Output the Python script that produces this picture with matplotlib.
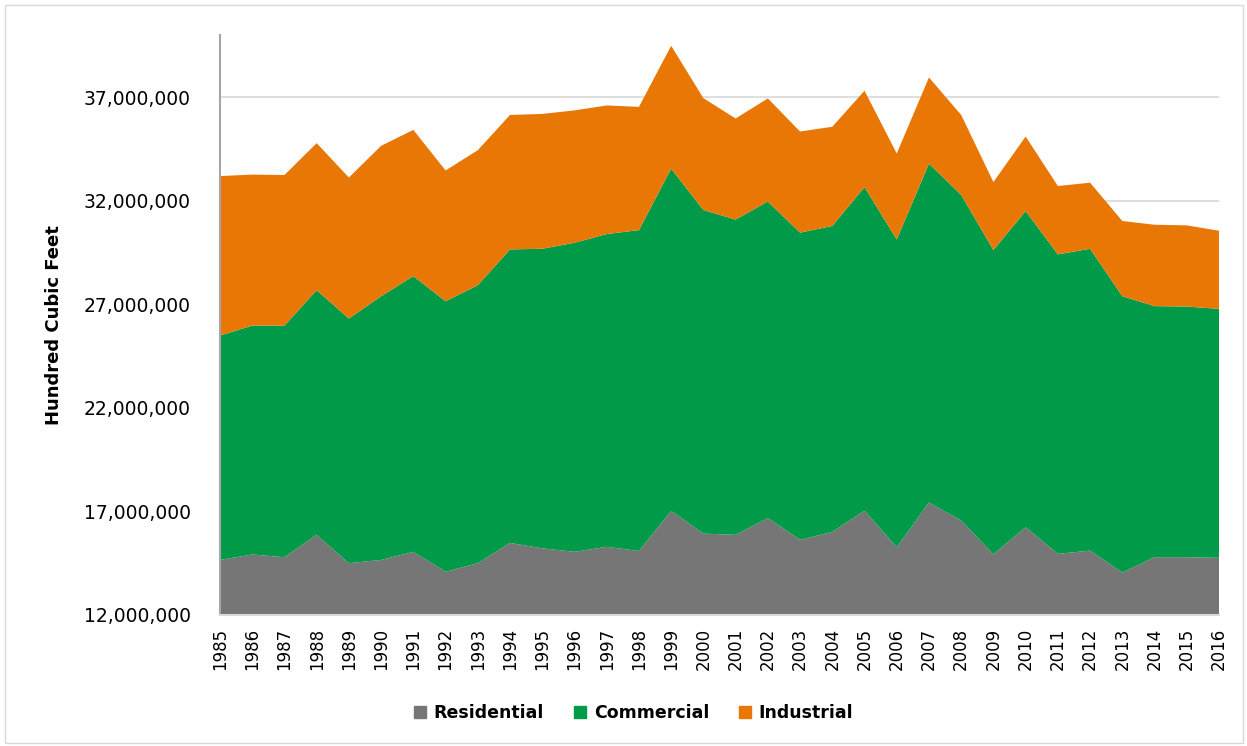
import numpy as np
import matplotlib.pyplot as plt
from matplotlib.ticker import FuncFormatter
from matplotlib.patches import Patch

# %%
years = list(range(1985, 2017))

# stacked tops, in millions of hundred cubic feet
residential_top = [14.66, 14.92, 14.79, 15.87, 14.50, 14.66, 15.05, 14.09, 14.50, 15.48,
                   15.22, 15.05, 15.29, 15.09, 17.03, 15.93, 15.87, 16.68, 15.63, 16.01,
                   17.04, 15.27, 17.43, 16.56, 14.93, 16.24, 14.95, 15.11, 14.05, 14.79,
                   14.79, 14.76]
commercial_top = [25.49, 25.97, 25.97, 27.68, 26.31, 27.39, 28.36, 27.15, 27.92, 29.65,
                  29.68, 29.97, 30.39, 30.58, 33.55, 31.55, 31.09, 31.96, 30.46, 30.78,
                  32.66, 30.13, 33.79, 32.28, 29.62, 31.50, 29.41, 29.68, 27.39, 26.91,
                  26.89, 26.78]
total_top = [33.19, 33.26, 33.24, 34.78, 33.12, 34.65, 35.42, 33.46, 34.44, 36.14,
             36.19, 36.36, 36.60, 36.53, 39.48, 36.95, 35.97, 36.94, 35.34, 35.57,
             37.31, 34.28, 37.95, 36.14, 32.90, 35.10, 32.71, 32.87, 31.02, 30.84,
             30.81, 30.55]

labels = ['Residential', 'Commercial', 'Industrial']
colors = ['#767676', '#009A48', '#E97705']

# %%
residential = np.array(residential_top) * 1e6
commercial = (np.array(commercial_top) - np.array(residential_top)) * 1e6
industrial = (np.array(total_top) - np.array(commercial_top)) * 1e6

fig = plt.figure(figsize=(12.47, 7.46), dpi=100)
ax = fig.add_axes([220 / 1247, 131 / 746, 999 / 1247, 580 / 746])

ax.stackplot(years, residential, commercial, industrial, colors=colors, linewidth=0)

ax.set_xlim(1985, 2016)
ax.set_ylim(12e6, 40e6)
ax.set_yticks(np.arange(12e6, 38e6, 5e6))
ax.yaxis.set_major_formatter(FuncFormatter(lambda v, p: f'{int(v):,}'))
ax.set_xticks(years)
ax.set_xticklabels([str(y) for y in years], rotation=90, fontsize=12)

ax.grid(axis='y', color='#d9d9d9', linewidth=1.2, zorder=0)
ax.set_axisbelow(True)
ax.tick_params(axis='both', length=0)
ax.tick_params(axis='y', labelsize=13.5, pad=21)
ax.tick_params(axis='x', pad=9)

for s in ['top', 'right']:
    ax.spines[s].set_visible(False)
ax.spines['left'].set_color('#a6a6a6')
ax.spines['left'].set_linewidth(1.5)
ax.spines['bottom'].set_color('#d9d9d9')
ax.spines['bottom'].set_linewidth(1.5)

ax.set_ylabel('Hundred Cubic Feet', fontsize=13, fontweight='bold')
ax.yaxis.set_label_coords(-0.157, 0.5)

handles = [Patch(color=c, label=l) for c, l in zip(colors, labels)]
fig.legend(handles=handles, loc='center', bbox_to_anchor=(0.508, 1 - 713 / 746),
           ncol=3, frameon=False, prop={'weight': 'bold', 'size': 12.5},
           handlelength=0.7, handleheight=0.7, handletextpad=0.45, columnspacing=1.7)

# outer chart border
fig.patches.append(plt.Rectangle((5 / 1247, 3 / 746), 1238 / 1247, 738 / 746,
                                 transform=fig.transFigure, fill=False,
                                 edgecolor='#d9d9d9', linewidth=1))

fig.savefig('out.png', dpi=100)
